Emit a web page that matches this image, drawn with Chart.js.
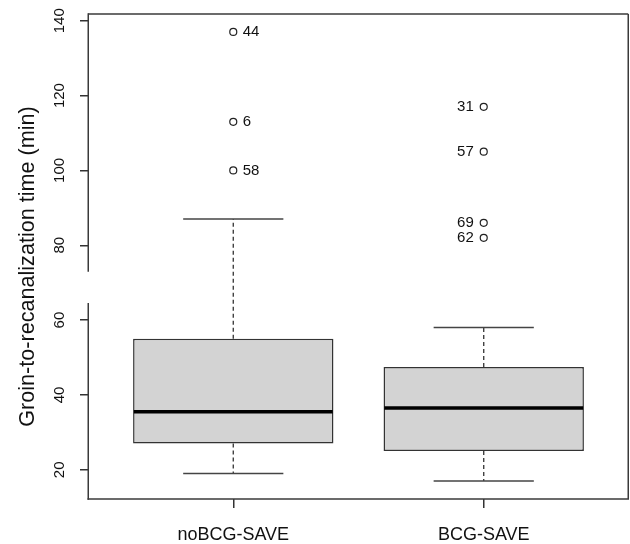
<!DOCTYPE html>
<html>
<head>
<meta charset="utf-8">
<script src="https://cdn.jsdelivr.net/npm/chart.js@4"></script>
<style>
  html, body { margin: 0; padding: 0; background: #fff; }
  #wrap { width: 630px; height: 544px; }
</style>
</head>
<body>
<div id="wrap"><canvas id="boxChart" width="630" height="544"></canvas></div>
<script>
// Groin-to-recanalization time, boxplot by group
const categories = ['noBCG-SAVE', 'BCG-SAVE'];
const positions = [1, 2];
const whiskerLow = [19, 17];
const q1 = [27, 25];
const median = [35.5, 36.5];
const q3 = [55, 47.5];
const whiskerHigh = [87, 58];
const outlierValues = [[137, 113, 100], [117, 105, 86, 82]];
const outlierIds = [['44', '6', '58'], ['31', '57', '69', '62']];
const yTicks = [20, 40, 60, 80, 100, 120, 140];
const axisBreak = [64.6, 72.9];
const yTitle = 'Groin-to-recanalization time (min)';

const FONT = "'Liberation Sans', Arial, Helvetica, sans-serif";

// R-style range: data range extended by 4% on each side
const allValues = whiskerLow.concat(whiskerHigh, ...outlierValues);
const yLo = Math.min(...allValues), yHi = Math.max(...allValues);
const yPad = (yHi - yLo) * 0.04;
const xLo = 0.5, xHi = categories.length + 0.5;
const xPad = (xHi - xLo) * 0.04;

const boxData = positions.map((p, i) => ({ x: p, y: [q1[i], q3[i]] }));
const outlierData = [];
outlierValues.forEach((vals, g) => {
    vals.forEach((v, k) => outlierData.push({ x: positions[g], y: v, id: outlierIds[g][k], group: g }));
});

function line(ctx, x1, y1, x2, y2) {
    ctx.beginPath();
    ctx.moveTo(x1, y1);
    ctx.lineTo(x2, y2);
    ctx.stroke();
}

const boxPlotExtras = {
    id: 'boxPlotExtras',
    afterDatasetsDraw(chart) {
        const { ctx, chartArea: area, scales: { y } } = chart;
        const bars = chart.getDatasetMeta(0).data;
        ctx.save();

        bars.forEach((bar, i) => {
            const { x: cx, width } = bar.getProps(['x', 'width'], true);
            const half = width / 2;
            const yQ1 = y.getPixelForValue(q1[i]);
            const yQ3 = y.getPixelForValue(q3[i]);
            const yWl = y.getPixelForValue(whiskerLow[i]);
            const yWh = y.getPixelForValue(whiskerHigh[i]);

            ctx.strokeStyle = '#333';
            ctx.lineWidth = 1.3;
            ctx.setLineDash([4, 3]);
            line(ctx, cx, yQ3, cx, yWh);
            line(ctx, cx, yQ1, cx, yWl);
            ctx.setLineDash([]);

            ctx.strokeStyle = '#444';
            ctx.lineWidth = 1.5;
            line(ctx, cx - half / 2, yWh, cx + half / 2, yWh);
            line(ctx, cx - half / 2, yWl, cx + half / 2, yWl);

            const yMed = y.getPixelForValue(median[i]);
            ctx.strokeStyle = '#000';
            ctx.lineWidth = 3.5;
            line(ctx, cx - half + 0.75, yMed, cx + half - 0.75, yMed);
        });

        // outlier case numbers
        ctx.fillStyle = '#111';
        ctx.font = '15px ' + FONT;
        ctx.textBaseline = 'middle';
        chart.getDatasetMeta(1).data.forEach((pt, k) => {
            const d = outlierData[k];
            if (d.group === 0) {
                ctx.textAlign = 'left';
                ctx.fillText(d.id, pt.x + 9.5, pt.y);
            } else {
                ctx.textAlign = 'right';
                ctx.fillText(d.id, pt.x - 10, pt.y);
            }
        });

        // frame with a break on the left axis
        ctx.strokeStyle = '#3a3a3a';
        ctx.lineWidth = 1.5;
        const L = area.left + 0.25, R = area.right - 0.75, T = area.top, B = area.bottom;
        line(ctx, L, T, R, T);
        line(ctx, R, T, R, B);
        line(ctx, L - 0.75, B, R + 0.75, B);
        line(ctx, L, T - 0.75, L, y.getPixelForValue(axisBreak[1]));
        line(ctx, L, y.getPixelForValue(axisBreak[0]), L, B + 0.75);

        // rotated y tick labels, as R draws them
        ctx.fillStyle = '#111';
        ctx.font = '15px ' + FONT;
        ctx.textAlign = 'center';
        ctx.textBaseline = 'alphabetic';
        y.ticks.forEach(t => {
            ctx.save();
            ctx.translate(area.left - 24.5, y.getPixelForValue(t.value));
            ctx.rotate(-Math.PI / 2);
            ctx.fillText(String(t.value), 0, 0);
            ctx.restore();
        });

        // y axis title
        ctx.font = '21.6px ' + FONT;
        ctx.save();
        ctx.translate(34, (area.top + area.bottom) / 2 + 10);
        ctx.rotate(-Math.PI / 2);
        ctx.fillText(yTitle, 0, 0);
        ctx.restore();

        ctx.restore();
    }
};

new Chart(document.getElementById('boxChart'), {
    type: 'bar',
    data: {
        datasets: [{
            type: 'bar',
            data: boxData,
            backgroundColor: '#d3d3d3',
            borderColor: '#333',
            borderWidth: 1.5,
            borderSkipped: false,
            barPercentage: 1,
            categoryPercentage: 0.8
        }, {
            type: 'scatter',
            data: outlierData,
            pointRadius: 3.5,
            pointBorderWidth: 1.2,
            pointBackgroundColor: '#fff',
            pointBorderColor: '#222'
        }]
    },
    options: {
        responsive: false,
        animation: false,
        events: [],
        layout: { autoPadding: false, padding: { top: 14, right: 1, left: 0, bottom: 0 } },
        plugins: {
            legend: { display: false },
            tooltip: { enabled: false }
        },
        scales: {
            x: {
                type: 'linear',
                min: xLo - xPad,
                max: xHi + xPad,
                offset: false,
                afterBuildTicks: scale => { scale.ticks = positions.map(v => ({ value: v })); },
                afterFit: scale => { scale.height = 45; },
                grid: { offset: false, drawOnChartArea: false, drawTicks: true, tickLength: 9, tickColor: '#333', lineWidth: 1.5 },
                border: { display: false },
                ticks: {
                    autoSkip: false,
                    maxRotation: 0,
                    padding: 16,
                    color: '#111',
                    font: { family: FONT, size: 18 },
                    callback: (v, i) => categories[i]
                }
            },
            y: {
                type: 'linear',
                min: yLo - yPad,
                max: yHi + yPad,
                afterBuildTicks: scale => { scale.ticks = yTicks.map(v => ({ value: v })); },
                afterFit: scale => { scale.width = 88; },
                grid: { drawOnChartArea: false, drawTicks: true, tickLength: 8, tickColor: '#333', lineWidth: 1.5 },
                border: { display: false },
                ticks: { display: false }
            }
        }
    },
    plugins: [boxPlotExtras]
});
</script>
</body>
</html>
